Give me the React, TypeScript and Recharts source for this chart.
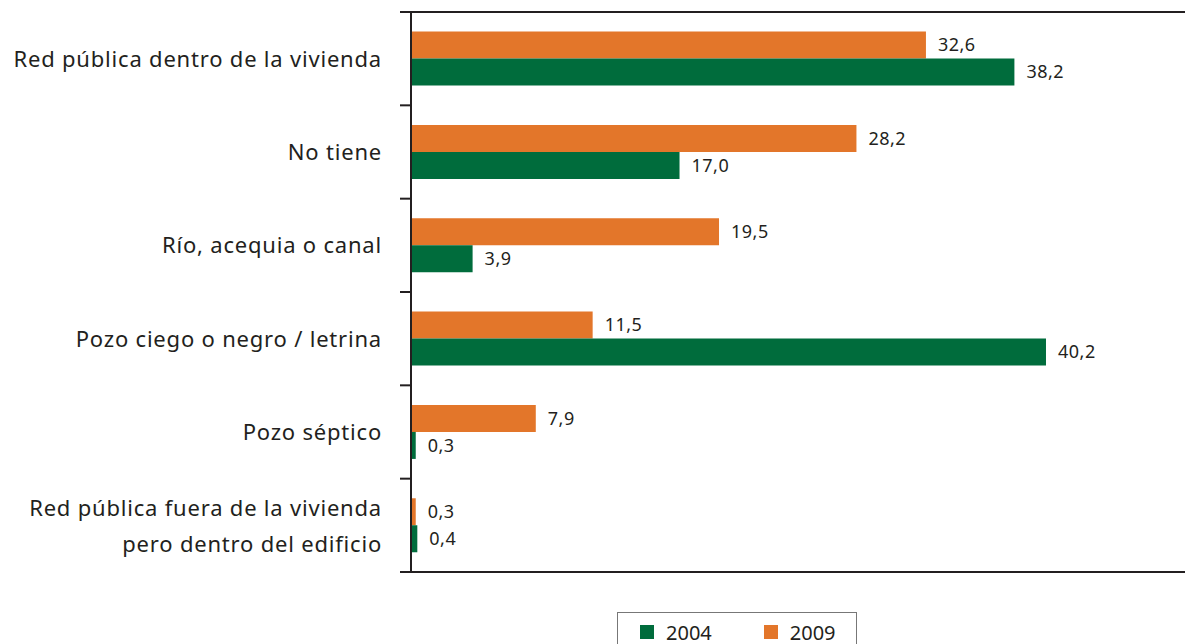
import { BarChart, Bar, XAxis, YAxis, LabelList } from 'recharts';

// Categories, top to bottom
const categories = [
  'Red pública dentro de la vivienda',
  'No tiene',
  'Río, acequia o canal',
  'Pozo ciego o negro / letrina',
  'Pozo séptico',
  'Red pública fuera de la vivienda\npero dentro del edificio',
];

const values2009 = [32.6, 28.2, 19.5, 11.5, 7.9, 0.3];
const values2004 = [38.2, 17.0, 3.9, 40.2, 0.3, 0.4];

const data = categories.map((name, i) => ({
  name,
  y2009: values2009[i],
  y2004: values2004[i],
}));

const ORANGE = '#E3762A';
const GREEN = '#006C3C';
const INK = '#231F20';
const FONT = '"Noto Sans", sans-serif';

const BAND = 560 / categories.length;

const fmt = (v: any) => Number(v).toFixed(1).replace('.', ',');

function CategoryTick(props: any) {
  const { x, y, payload, index } = props;
  const lines = String(payload.value).split('\n');
  const axisX = x + 29;
  const top = y - BAND / 2;
  return (
    <g>
      <line x1={axisX - 11} x2={axisX} y1={top} y2={top} stroke={INK} strokeWidth={2} />
      {index === categories.length - 1 && (
        <line x1={axisX - 11} x2={axisX} y1={y + BAND / 2} y2={y + BAND / 2} stroke={INK} strokeWidth={2} />
      )}
      <text x={x} y={y} textAnchor="end" fill={INK} fontSize={22} letterSpacing={0.8} fontFamily={FONT}>
        {lines.map((l, i) => (
          <tspan key={i} x={x} dy={i === 0 ? (lines.length === 1 ? 8 : -9) : 36}>
            {l}
          </tspan>
        ))}
      </text>
    </g>
  );
}

function LegendBox() {
  const item = (color: string, label: string) => (
    <div style={{ display: 'flex', alignItems: 'center', marginRight: 52 }}>
      <div style={{ width: 14, height: 14, background: color, marginRight: 12 }} />
      <span style={{ fontSize: 20, color: INK, fontFamily: FONT }}>{label}</span>
    </div>
  );
  return (
    <div
      style={{
        position: 'absolute',
        left: 617,
        top: 612,
        width: 240,
        height: 40,
        border: '1px solid #777',
        boxSizing: 'border-box',
        display: 'flex',
        alignItems: 'center',
        paddingLeft: 22,
      }}
    >
      {item(GREEN, '2004')}
      {item(ORANGE, '2009')}
    </div>
  );
}

export default function App() {
  return (
    <div style={{ position: 'absolute', left: 0, top: 0, width: 1185, height: 644, background: '#fff', overflow: 'hidden' }}>
      <BarChart
        width={1185}
        height={644}
        data={data}
        layout="vertical"
        margin={{ top: 12, right: 0, bottom: 72, left: 0 }}
        barCategoryGap="21%"
        barGap={0}
      >
        <XAxis type="number" domain={[0, 49]} hide />
        <YAxis
          type="category"
          dataKey="name"
          width={411}
          tickSize={0}
          tickMargin={29}
          tickLine={false}
          axisLine={{ stroke: INK, strokeWidth: 2 }}
          tick={<CategoryTick />}
          interval={0}
        />
        <Bar dataKey="y2009" fill={ORANGE} isAnimationActive={false}>
          <LabelList dataKey="y2009" position="right" offset={12} formatter={fmt} fill={INK} fontSize={18} letterSpacing={0.5} fontFamily={FONT} />
        </Bar>
        <Bar dataKey="y2004" fill={GREEN} isAnimationActive={false}>
          <LabelList dataKey="y2004" position="right" offset={12} formatter={fmt} fill={INK} fontSize={18} letterSpacing={0.5} fontFamily={FONT} />
        </Bar>
      </BarChart>
      {/* frame lines above and below the plot */}
      <svg width={1185} height={644} style={{ position: 'absolute', left: 0, top: 0, pointerEvents: 'none' }}>
        <line x1={400} x2={1185} y1={12} y2={12} stroke={INK} strokeWidth={2} />
        <line x1={400} x2={1185} y1={572} y2={572} stroke={INK} strokeWidth={2} />
      </svg>
      <LegendBox />
    </div>
  );
}
